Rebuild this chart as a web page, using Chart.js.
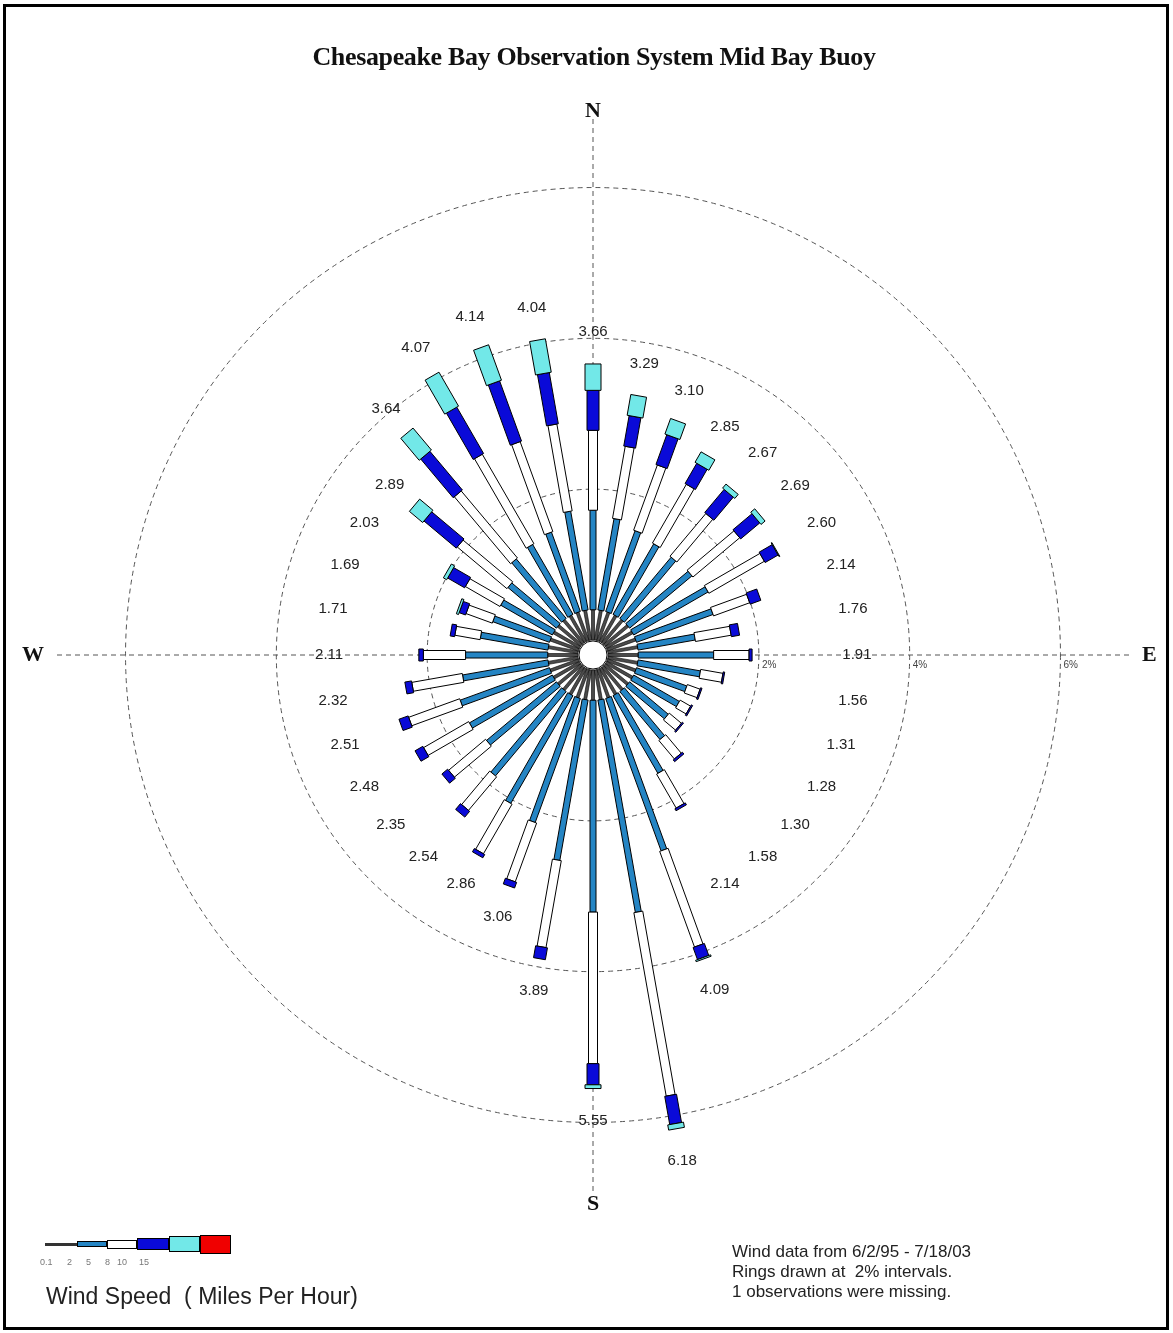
<!DOCTYPE html>
<html>
<head>
<meta charset="utf-8">
<title>Chesapeake Bay Observation System Mid Bay Buoy</title>
<script src="https://cdn.jsdelivr.net/npm/chart.js@4.4.1/dist/chart.umd.min.js"></script>
<style>
  html, body { margin: 0; padding: 0; background: #fff; overflow: hidden; }
  #page { position: relative; width: 1173px; height: 1333px; }
  #chartBox { position: absolute; left: 0; top: 0; width: 1173px; height: 1333px; }
  #frame { position: absolute; left: 3px; top: 4px; width: 1160px; height: 1320px; border: 3px solid #000; pointer-events: none; }
  #title { position: absolute; left: 194px; top: 42px; width: 800px; text-align: center; letter-spacing: -0.35px;
           font: bold 26px "Liberation Serif", "Times New Roman", serif; line-height: 30px; color: #111; }
  .sw { position: absolute; box-sizing: border-box; border: 1px solid #000; }
  .tick { position: absolute; top: 1257px; font: 9px "Liberation Sans", Arial, sans-serif; color: #777; }
  #wsTitle { position: absolute; left: 46px; top: 1283px; white-space: pre;
             font: 23px "Liberation Sans", Arial, sans-serif; color: #222; }
  #notes { position: absolute; left: 732px; top: 1242px; font: 17px "Liberation Sans", Arial, sans-serif;
           line-height: 20px; color: #222; }
</style>
</head>
<body>
<div id="page">
  <div id="chartBox"><canvas id="chart"></canvas></div>
  <div id="title">Chesapeake Bay Observation System Mid Bay Buoy</div>
  <div id="legend"></div>
  <div id="wsTitle">Wind Speed  ( Miles Per Hour)</div>
  <div id="notes">Wind data from 6/2/95 - 7/18/03<br>Rings drawn at&nbsp; 2% intervals.<br>1 observations were missing.</div>
  <div id="frame"></div>
</div>
<script>
// wind directions (degrees, clockwise from north)
const directions = ['0', '10', '20', '30', '40', '50', '60', '70', '80', '90', '100', '110',
    '120', '130', '140', '150', '160', '170', '180', '190', '200', '210', '220', '230',
    '240', '250', '260', '270', '280', '290', '300', '310', '320', '330', '340', '350'];

// percent of observations per speed class
const mph0to2 = [0.40, 0.40, 0.40, 0.40, 0.40, 0.40, 0.40, 0.40, 0.40, 0.40, 0.40, 0.40,
    0.40, 0.40, 0.40, 0.40, 0.40, 0.40, 0.40, 0.40, 0.40, 0.40, 0.40, 0.40,
    0.40, 0.40, 0.40, 0.40, 0.40, 0.40, 0.40, 0.40, 0.40, 0.40, 0.40, 0.40];
const mph2to5 = [1.32, 1.23, 1.14, 1.08, 1.06, 1.08, 1.14, 1.08, 0.77, 1.00, 0.84, 0.71,
    0.70, 0.67, 0.83, 1.19, 2.15, 2.86, 2.81, 2.16, 1.75, 1.65, 1.46, 1.21,
    1.27, 1.26, 1.15, 1.09, 0.91, 0.80, 0.79, 0.84, 1.03, 1.07, 1.12, 1.33];
const mph5to8 = [1.06, 0.97, 0.92, 0.90, 0.74, 0.81, 0.85, 0.51, 0.48, 0.47, 0.30, 0.18,
    0.16, 0.21, 0.32, 0.52, 1.35, 2.47, 2.01, 1.17, 0.83, 0.76, 0.58, 0.64,
    0.69, 0.72, 0.68, 0.56, 0.34, 0.37, 0.53, 0.86, 1.16, 1.37, 1.27, 1.17];
const mph8to10 = [0.53, 0.41, 0.42, 0.31, 0.40, 0.33, 0.20, 0.15, 0.11, 0.04, 0.02, 0.02,
    0.02, 0.02, 0.03, 0.03, 0.17, 0.38, 0.28, 0.16, 0.08, 0.05, 0.10, 0.10,
    0.12, 0.13, 0.09, 0.06, 0.06, 0.09, 0.26, 0.56, 0.67, 0.71, 0.85, 0.69];
const mph10to15 = [0.35, 0.28, 0.22, 0.16, 0.07, 0.07, 0.01, 0, 0, 0, 0, 0,
    0, 0, 0, 0, 0.02, 0.07, 0.05, 0, 0, 0, 0, 0,
    0, 0, 0, 0, 0, 0.03, 0.05, 0.23, 0.38, 0.52, 0.50, 0.45];
const mph15up = [0, 0, 0, 0, 0, 0, 0, 0, 0, 0, 0, 0,
    0, 0, 0, 0, 0, 0, 0, 0, 0, 0, 0, 0,
    0, 0, 0, 0, 0, 0, 0, 0, 0, 0, 0, 0];

const speedLabels = ['0.1', '2', '5', '8', '10', '15'];
const ringTicks = [2, 4, 6];

const classColors = ['#4a4a4a', '#2585c4', '#ffffff', '#0a0ad8', '#72e8e8', '#f00000'];
const classWidths = [3, 6, 9, 12, 16, 19];

const series = [mph0to2, mph2to5, mph5to8, mph8to10, mph10to15, mph15up];

// one rotated box from value v0 to v1 along spoke i
function drawSegment(ctx, scale, i, v0, v1, width, fill, lw) {
    const a = scale.getPointPositionForValue(i, v0);
    const b = scale.getPointPositionForValue(i, v1);
    const ang = scale.getIndexAngle(i) - Math.PI / 2;
    const nx = -Math.sin(ang) * width / 2;
    const ny = Math.cos(ang) * width / 2;
    ctx.beginPath();
    ctx.moveTo(a.x + nx, a.y + ny);
    ctx.lineTo(b.x + nx, b.y + ny);
    ctx.lineTo(b.x - nx, b.y - ny);
    ctx.lineTo(a.x - nx, a.y - ny);
    ctx.closePath();
    ctx.fillStyle = fill;
    ctx.fill();
    ctx.lineWidth = lw;
    ctx.strokeStyle = '#000';
    ctx.stroke();
}

const windRose = {
    id: 'windRose',
    afterDatasetsDraw(chart) {
        const ctx = chart.ctx;
        const scale = chart.scales.r;
        ctx.save();

        // bars
        directions.forEach((d, i) => {
            let cum = 0;
            chart.data.datasets.forEach((ds, k) => {
                const v = ds.data[i];
                if (v > 0) {
                    drawSegment(ctx, scale, i, cum, cum + v, classWidths[k], classColors[k], k === 0 ? 0.6 : 1);
                }
                cum += v;
            });
        });

        // white hub
        const hub = scale.getDistanceFromCenterForValue(0) - 1;
        ctx.beginPath();
        ctx.arc(scale.xCenter, scale.yCenter, hub, 0, Math.PI * 2);
        ctx.fillStyle = '#fff';
        ctx.fill();
        ctx.lineWidth = 1;
        ctx.strokeStyle = '#000';
        ctx.stroke();

        // totals
        ctx.font = '15px "Liberation Sans", Arial, sans-serif';
        ctx.fillStyle = '#222';
        ctx.textAlign = 'center';
        ctx.textBaseline = 'middle';
        directions.forEach((d, i) => {
            const total = chart.data.datasets.reduce((s, ds) => s + ds.data[i], 0);
            const p = scale.getPointPositionForValue(i, Math.max(total + 0.43, 3.3));
            ctx.fillText(total.toFixed(2), p.x, p.y);
        });

        // ring labels along east axis
        ctx.font = '10px "Liberation Sans", Arial, sans-serif';
        ctx.fillStyle = '#444';
        ctx.textAlign = 'left';
        ringTicks.forEach(v => {
            const p = scale.getPointPositionForValue(9, v);
            ctx.fillText(v + '%', p.x + 3, p.y + 10);
        });

        // compass letters
        ctx.font = 'bold 22px "Liberation Serif", "Times New Roman", serif';
        ctx.fillStyle = '#111';
        ctx.textAlign = 'center';
        [['N', 0], ['E', 9], ['S', 18], ['W', 27]].forEach(([t, i]) => {
            const half = ctx.measureText(t).width / 2;
            const ang = scale.getIndexAngle(i);
            const pad = (i === 0 ? 4 : 9) + half * Math.abs(Math.sin(ang));
            const p = scale.getPointPosition(i, scale.drawingArea + pad);
            ctx.fillText(t, p.x, p.y);
        });
        ctx.restore();
    }
};

// legend swatches
const legend = document.getElementById('legend');
const swLeft = [45, 77, 107, 137, 169, 200];
const swW = [32, 30, 30, 32, 31, 31];
classColors.forEach((c, k) => {
    const el = document.createElement('div');
    el.className = 'sw';
    const h = k === 0 ? 3 : classWidths[k];
    el.style.cssText = 'left:' + swLeft[k] + 'px;top:' + (1244 - h / 2) + 'px;width:' + swW[k] +
        'px;height:' + h + 'px;background:' + c + ';' + (k === 0 ? 'border:none;background:#333;' : '');
    legend.appendChild(el);
});
const tickLeft = [40, 67, 86, 105, 117, 139];
speedLabels.forEach((t, k) => {
    const el = document.createElement('div');
    el.className = 'tick';
    el.style.left = tickLeft[k] + 'px';
    el.textContent = t;
    legend.appendChild(el);
});

new Chart(document.getElementById('chart'), {
    type: 'radar',
    data: {
        labels: directions,
        datasets: series.map((data, k) => ({
            label: speedLabels[k],
            data: data,
            showLine: false,
            pointRadius: 0,
            pointHitRadius: 0,
            borderWidth: 0,
            fill: false,
        }))
    },
    options: {
        responsive: true,
        maintainAspectRatio: false,
        animation: false,
        layout: { padding: { left: 53, right: 40, top: 115, bottom: 138 } },
        plugins: { legend: { display: false }, tooltip: { enabled: false } },
        scales: {
            r: {
                min: -0.2,
                max: 6.962,
                startAngle: 0,
                afterBuildTicks: s => {
                    s.ticks = [{ value: s.min }].concat(ringTicks.map(v => ({ value: v })));
                },
                ticks: { display: false },
                pointLabels: { display: false },
                grid: { circular: true, color: '#555', lineWidth: 1 },
                border: { dash: [5, 4] },
                angleLines: {
                    color: '#555',
                    lineWidth: ctx => (ctx.index % 9 === 0 ? 1 : 0),
                    borderDash: [5, 4]
                }
            }
        }
    },
    plugins: [windRose]
});
</script>
</body>
</html>
